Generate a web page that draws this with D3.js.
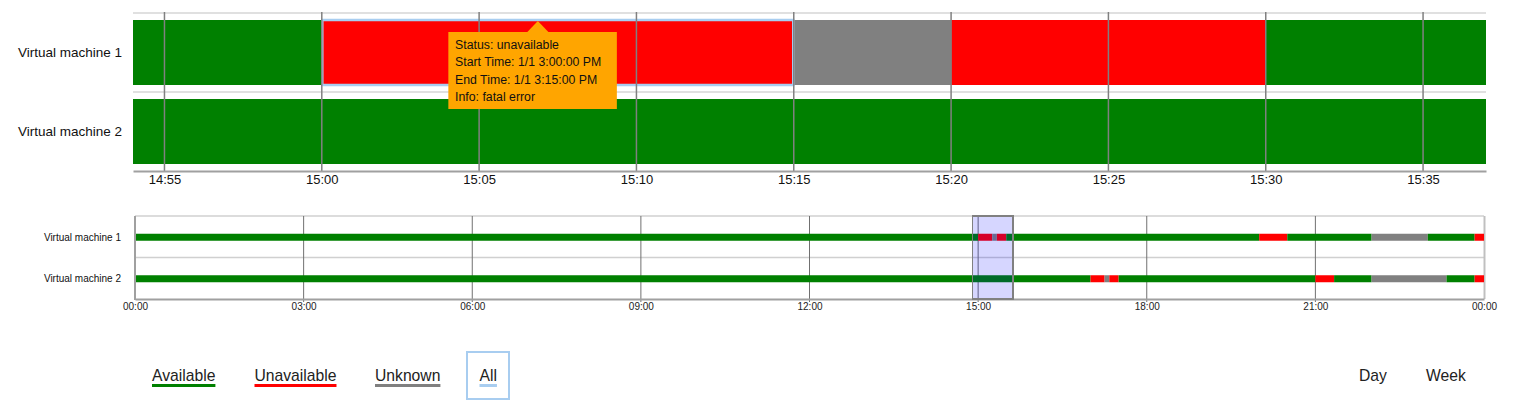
<!DOCTYPE html>
<html>
<head>
<meta charset="utf-8">
<script src="https://cdn.jsdelivr.net/npm/d3@7"></script>
<style>
  html, body { margin: 0; padding: 0; background: #fff; }
  svg { display: block; font-family: "Liberation Sans", Arial, sans-serif; }
</style>
</head>
<body>
<svg id="chart" width="1538" height="407"></svg>
<script>
// ---------------- data ----------------
const machines = ["Virtual machine 1", "Virtual machine 2"];
const statuses = ["available", "unavailable", "unknown"];
const statusLabels = ["Available", "Unavailable", "Unknown"];
const statusColors = ["#008000", "#ff0000", "#808080"];

// [start, end, status, info]
const vm1Segments = [
  ["00:00", "15:00", "available", ""],
  ["15:00", "15:15", "unavailable", "fatal error"],
  ["15:15", "15:20", "unknown", ""],
  ["15:20", "15:30", "unavailable", ""],
  ["15:30", "20:00", "available", ""],
  ["20:00", "20:30", "unavailable", ""],
  ["20:30", "22:00", "available", ""],
  ["22:00", "23:00", "unknown", ""],
  ["23:00", "23:50", "available", ""],
  ["23:50", "24:00", "unavailable", ""]
];
const vm2Segments = [
  ["00:00", "17:00", "available", ""],
  ["17:00", "17:15", "unavailable", ""],
  ["17:15", "17:20", "unknown", ""],
  ["17:20", "17:30", "unavailable", ""],
  ["17:30", "21:00", "available", ""],
  ["21:00", "21:20", "unavailable", ""],
  ["21:20", "22:00", "available", ""],
  ["22:00", "23:20", "unknown", ""],
  ["23:20", "23:50", "available", ""],
  ["23:50", "24:00", "unavailable", ""]
];
const dayRange = ["00:00", "24:00"];
const zoomRange = ["14:54", "15:37"];
const selected = { machine: 0, segment: 1, hover: "15:06:52" };
const filterLabels = ["All"];
const viewLabels = ["Day", "Week"];

// ---------------- helpers ----------------
const base = new Date(2000, 0, 1);
function t(s) {
  const p = s.split(":").map(Number);
  return new Date(base.getTime() + ((p[0] * 60 + p[1]) * 60 + (p[2] || 0)) * 1000);
}
const colorOf = d3.scaleOrdinal().domain(statuses).range(statusColors);
const rows = [vm1Segments, vm2Segments].map((segs, i) =>
  segs.map(s => ({ row: machines[i], start: t(s[0]), end: t(s[1]), status: s[2], info: s[3] })));
const all = rows.flat();

const svg = d3.select("#chart");
const FONT = "Liberation Sans, Arial, sans-serif";

// ---------------- main (zoomed) chart ----------------
const x = d3.scaleTime().domain(zoomRange.map(t)).range([133, 1486]);
const y = d3.scaleBand().domain(machines).range([13, 171]);

const main = svg.append("g");
main.append("defs").append("clipPath").attr("id", "clipMain")
  .append("rect").attr("x", 133).attr("y", 0).attr("width", 1353).attr("height", 200);

// row separators
main.selectAll("line.rowsep").data(machines).join("line")
  .attr("x1", 133).attr("x2", 1486)
  .attr("y1", d => y(d)).attr("y2", d => y(d))
  .attr("stroke", "#e0e0e0").attr("stroke-width", 2);

main.append("g").attr("clip-path", "url(#clipMain)")
  .selectAll("rect").data(all).join("rect")
  .attr("x", d => x(d.start))
  .attr("width", d => Math.max(0, x(d.end) - x(d.start)))
  .attr("y", d => y(d.row) + 7)
  .attr("height", y.bandwidth() - 14)
  .attr("fill", d => colorOf(d.status));

// selected segment outline
const sel = rows[selected.machine][selected.segment];
main.append("rect")
  .attr("x", x(sel.start) + 0.5).attr("width", x(sel.end) - x(sel.start) - 1)
  .attr("y", y(sel.row) + 7).attr("height", y.bandwidth() - 14)
  .attr("fill", "none").attr("stroke", "#a8cdf0").attr("stroke-width", 2.5);

// vertical grid
const mainTicks = x.ticks(d3.timeMinute.every(5));
main.selectAll("line.vg").data(mainTicks).join("line")
  .attr("x1", d => x(d)).attr("x2", d => x(d))
  .attr("y1", 12).attr("y2", 172)
  .attr("stroke", "#808080").attr("stroke-width", 1.5);

// axis
const xAxis = d3.axisBottom(x).tickValues(mainTicks).tickFormat(d3.timeFormat("%H:%M")).tickSize(0).tickPadding(0);
const ax = main.append("g").attr("transform", "translate(0,171)").call(xAxis);
ax.select(".domain").attr("stroke", "#a0a0a0").attr("stroke-width", 2);
ax.selectAll("text").attr("font-family", FONT).attr("font-size", 13).attr("fill", "#111").attr("dy", null).attr("y", 13);

// row labels
main.selectAll("text.rl").data(machines).join("text")
  .attr("x", 122).attr("y", d => y(d) + y.bandwidth() / 2 + 4)
  .attr("text-anchor", "end").attr("font-size", 13.5).attr("fill", "#111")
  .text(d => d);

// tooltip
const tipLines = [
  "Status: " + sel.status,
  "Start Time: " + d3.timeFormat("%-m/%-d %-I:%M:%S %p")(sel.start),
  "End Time: " + d3.timeFormat("%-m/%-d %-I:%M:%S %p")(sel.end),
  "Info: " + sel.info
];
const tipX = x(t(selected.hover));
const tip = main.append("g");
tip.append("path")
  .attr("d", `M${tipX},21 L${tipX + 11},32.5 L${tipX - 11},32.5 Z`).attr("fill", "#ffa500");
tip.append("rect").attr("x", tipX - 89.5).attr("y", 32).attr("width", 168.5).attr("height", 77).attr("fill", "#ffa500");
tip.selectAll("text").data(tipLines).join("text")
  .attr("x", tipX - 82.8).attr("y", (d, i) => 48.5 + i * 17.5)
  .attr("font-size", 12.3).attr("fill", "#111")
  .text(d => d);

// ---------------- overview chart ----------------
const x2 = d3.scaleTime().domain(dayRange.map(t)).range([135, 1484]);
const y2 = d3.scaleBand().domain(machines).range([216, 299]);
const ov = svg.append("g");

ov.selectAll("line.rs").data(machines).join("line")
  .attr("x1", 135).attr("x2", 1484)
  .attr("y1", d => y2(d)).attr("y2", d => y2(d))
  .attr("stroke", "#d0d0d0").attr("stroke-width", 1.5);
ov.append("line").attr("x1", 1484.5).attr("x2", 1484.5).attr("y1", 216).attr("y2", 299)
  .attr("stroke", "#c0c0c0").attr("stroke-width", 2);

const ovTicks = x2.ticks(d3.timeHour.every(3));
ov.selectAll("line.vg").data(ovTicks.slice(1, -1)).join("line")
  .attr("x1", d => x2(d)).attr("x2", d => x2(d))
  .attr("y1", 216).attr("y2", 302)
  .attr("stroke", "#707070").attr("stroke-width", 1);

ov.selectAll("rect.seg").data(all).join("rect")
  .attr("x", d => x2(d.start))
  .attr("width", d => Math.max(0, x2(d.end) - x2(d.start)))
  .attr("y", d => y2(d.row) + y2.bandwidth() / 2 - 3)
  .attr("height", 7)
  .attr("fill", d => colorOf(d.status));

const xAxis2 = d3.axisBottom(x2).tickValues(ovTicks).tickFormat(d3.timeFormat("%H:%M")).tickSize(0).tickPadding(0);
const ax2 = ov.append("g").attr("transform", "translate(0,299)").call(xAxis2);
ax2.select(".domain").attr("stroke", "#a0a0a0").attr("stroke-width", 2);
ax2.selectAll("text").attr("font-family", FONT).attr("font-size", 10).attr("fill", "#222").attr("dy", null).attr("y", 11);
ov.append("line").attr("x1", 135).attr("x2", 135).attr("y1", 216).attr("y2", 300)
  .attr("stroke", "#a0a0a0").attr("stroke-width", 2);

ov.selectAll("text.rl").data(machines).join("text")
  .attr("x", 121).attr("y", d => y2(d) + y2.bandwidth() / 2 + 4)
  .attr("text-anchor", "end").attr("font-size", 10).attr("fill", "#111")
  .text(d => d);

// brush
const brush = d3.brushX().extent([[135, 216], [1484, 299]]);
const bg = ov.append("g").attr("class", "brush").call(brush);
bg.call(brush.move, zoomRange.map(t).map(x2));
bg.select(".selection").attr("fill", "#0000ff").attr("fill-opacity", 0.16)
  .attr("stroke", "#808080").attr("stroke-width", 1.5);
bg.selectAll(".handle").attr("fill", "none");

// ---------------- legend ----------------
const leg = svg.append("g").attr("font-size", 15.7);
const legX = [152, 254.5, 375];
statusLabels.forEach((lab, i) => {
  const g = leg.append("g");
  const tx = g.append("text").attr("x", legX[i]).attr("y", 381).attr("fill", "#222").text(lab);
  const w = tx.node().getComputedTextLength();
  g.append("rect").attr("x", legX[i]).attr("y", 384).attr("width", w).attr("height", 3)
    .attr("fill", statusColors[i]);
});
const allG = leg.append("g");
allG.append("rect").attr("x", 467).attr("y", 352).attr("width", 42).attr("height", 47)
  .attr("fill", "none").attr("stroke", "#a8cdf0").attr("stroke-width", 2);
const allT = allG.append("text").attr("x", 479.5).attr("y", 381).attr("fill", "#222").text(filterLabels[0]);
allG.append("rect").attr("x", 479.5).attr("y", 384).attr("width", allT.node().getComputedTextLength()).attr("height", 3)
  .attr("fill", "#a8cdf0");

const viewX = [1359, 1426];
viewLabels.forEach((lab, i) => {
  leg.append("text").attr("x", viewX[i]).attr("y", 381).attr("fill", "#222").text(lab);
});
</script>
</body>
</html>
